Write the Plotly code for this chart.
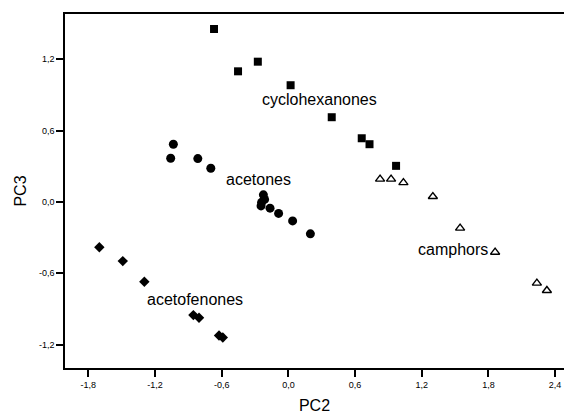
import plotly.graph_objects as go

# cyclohexanones (filled squares)
cyc_x = [-0.669, -0.453, -0.275, 0.020, 0.390, 0.660, 0.730, 0.969]
cyc_y = [1.454, 1.098, 1.179, 0.981, 0.712, 0.535, 0.485, 0.303]

# acetones (filled circles)
ace_x = [-1.035, -1.059, -0.815, -0.698, -0.225, -0.214, -0.241, -0.246, -0.165, -0.088, 0.038, 0.198]
ace_y = [0.485, 0.367, 0.364, 0.283, 0.059, 0.021, -0.004, -0.034, -0.053, -0.097, -0.160, -0.269]

# acetofenones (filled diamonds)
acf_x = [-1.701, -1.490, -1.296, -0.855, -0.804, -0.624, -0.590]
acf_y = [-0.381, -0.498, -0.672, -0.952, -0.975, -1.124, -1.140]

# camphors (open triangles)
cam_x = [0.825, 0.924, 1.035, 1.300, 1.545, 1.860, 2.236, 2.326]
cam_y = [0.191, 0.191, 0.162, 0.045, -0.221, -0.423, -0.683, -0.745]

# group labels
label_text = ["cyclohexanones", "acetones", "acetofenones", "camphors"]
label_x = [0.281, -0.265, -0.844, 1.481]
label_y = [0.857, 0.185, -0.824, -0.403]

x_ticks = [-1.8, -1.2, -0.6, 0.0, 0.6, 1.2, 1.8, 2.4]
x_tick_labels = ["-1,8", "-1,2", "-0,6", "0,0", "0,6", "1,2", "1,8", "2,4"]
y_ticks = [-1.2, -0.6, 0.0, 0.6, 1.2]
y_tick_labels = ["-1,2", "-0,6", "0,0", "0,6", "1,2"]

FONT = "Liberation Sans, Arial, sans-serif"

fig = go.Figure()
fig.add_trace(go.Scatter(x=cyc_x, y=cyc_y, mode="markers",
                         marker=dict(symbol="square", size=8, color="black")))
fig.add_trace(go.Scatter(x=ace_x, y=ace_y, mode="markers",
                         marker=dict(symbol="circle", size=9, color="black")))
fig.add_trace(go.Scatter(x=acf_x, y=acf_y, mode="markers",
                         marker=dict(symbol="diamond", size=8, color="black")))
fig.add_trace(go.Scatter(x=cam_x, y=cam_y, mode="markers",
                         marker=dict(symbol="triangle-up", size=8, color="white",
                                     line=dict(color="black", width=1.4))))

for t, x, y in zip(label_text, label_x, label_y):
    fig.add_annotation(x=x, y=y, text=t, showarrow=False,
                       font=dict(family=FONT, size=16, color="black"),
                       xanchor="center", yanchor="middle")

fig.update_layout(
    width=564, height=415,
    margin=dict(l=65, r=0, t=14, b=47),
    paper_bgcolor="white", plot_bgcolor="white",
    showlegend=False,
    font=dict(family=FONT, color="black"),
    xaxis=dict(range=[-2.01, 2.48], showgrid=False, zeroline=False, automargin=False,
               showline=True, linecolor="black", linewidth=1.5, mirror=True,
               ticks="outside", ticklen=7, tickwidth=1.5, tickcolor="black",
               tickvals=x_ticks, ticktext=x_tick_labels,
               tickfont=dict(size=9, family=FONT),
               title=dict(text="PC2", font=dict(size=16, family=FONT), standoff=11)),
    yaxis=dict(range=[-1.397, 1.58], showgrid=False, zeroline=False, automargin=False,
               showline=True, linecolor="black", linewidth=1.5,
               ticks="outside", ticklen=7, tickwidth=1.5, tickcolor="black",
               tickvals=y_ticks, ticktext=y_tick_labels,
               tickfont=dict(size=9, family=FONT),
               title=dict(text="PC3", font=dict(size=16, family=FONT), standoff=8)),
)

fig.write_html("out.html", config={"displayModeBar": False},
               post_script="document.body.style.margin='0';document.body.style.overflow='hidden';")
